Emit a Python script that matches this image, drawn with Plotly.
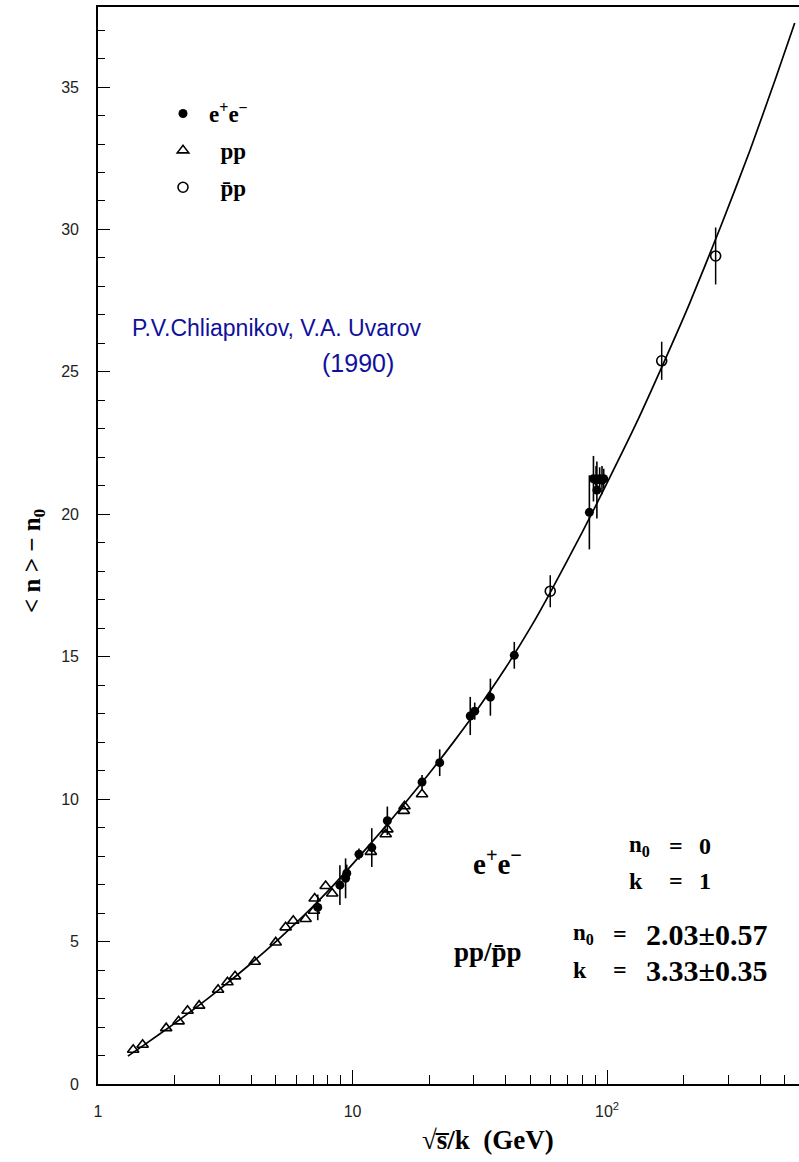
import plotly.graph_objects as go

# Fitted multiplicity curve
fit_x = [1.31, 1.5, 2, 2.5, 3, 4, 5, 6, 7, 8, 10, 13, 16, 20, 25, 30, 40, 50,
         60, 80, 100, 130, 165, 210, 280, 365, 460, 546]
fit_y = [0.98, 1.34, 2.13, 2.77, 3.32, 4.24, 5.00, 5.66, 6.24, 6.77, 7.72, 8.88,
         9.84, 10.90, 12.02, 12.98, 14.62, 16.02, 17.28, 19.38, 21.10, 23.18,
         25.22, 27.36, 30.12, 32.80, 35.32, 37.25]

# e+e- data (filled circles)
ee_x = [7.3, 8.92, 9.39, 9.49, 10.6, 11.9, 13.7, 18.75, 22.0, 29.0, 30.2, 34.8,
        43.2, 85.2, 88.4, 90.5, 91.2, 93.5, 95.5, 97.0]
ee_y = [6.20, 6.98, 7.22, 7.40, 8.07, 8.30, 9.24, 10.60, 11.28, 12.92, 13.09,
        13.58, 15.05, 20.07, 21.25, 21.20, 20.85, 21.25, 21.20, 21.25]
ee_err = [0.45, 0.70, 0.70, 0.30, 0.20, 0.68, 0.50, 0.25, 0.47, 0.67, 0.30,
          0.65, 0.47, 1.30, 0.80, 0.50, 1.00, 0.40, 0.50, 0.35]

# pp data (open triangles)
pp_x = [1.375, 1.497, 1.853, 2.073, 2.248, 2.496, 2.963, 3.226, 3.455, 4.128,
        4.99, 5.46, 5.85, 6.54, 7.05, 7.1, 7.84, 8.32, 11.8, 13.5, 13.7, 15.9,
        16.0, 18.75]
pp_y = [1.20, 1.38, 1.96, 2.20, 2.57, 2.75, 3.31, 3.57, 3.78, 4.29, 4.97, 5.50,
        5.73, 5.79, 6.08, 6.51, 6.95, 6.69, 8.15, 8.77, 8.94, 9.59, 9.75, 10.17]

# pbar-p data (open circles)
pb_x = [59.8, 163.9, 267.0]
pb_y = [17.30, 25.39, 29.07]
pb_err = [0.56, 0.67, 1.00]

x_ticks = [1, 10, 100]
x_ticktext = ["1", "10", "10<sup>2</sup>"]
y_ticks = [0, 5, 10, 15, 20, 25, 30, 35]

W, H = 799, 1162
L_M, R_M, T_M, B_M = 98, 0, 7, 78
pw, ph = W - L_M - R_M, H - T_M - B_M


def px(xp):
    return (xp - L_M) / pw


def py(yp):
    return (H - B_M - yp) / ph


SERIF = "Liberation Serif"
SANS = "Liberation Sans"

fig = go.Figure()

fig.add_trace(go.Scatter(
    x=fit_x, y=fit_y, mode="lines", showlegend=False, hoverinfo="skip",
    line=dict(color="black", width=1.7, shape="spline", smoothing=0.6)))

fig.add_trace(go.Scatter(
    x=ee_x, y=ee_y, mode="markers", name="<b>e<sup>+</sup>e<sup>−</sup></b>",
    legendgroup="a",
    marker=dict(symbol="circle", size=9, color="black"),
    error_y=dict(type="data", array=ee_err, visible=True, color="black",
                 thickness=1.6, width=0)))

fig.add_trace(go.Scatter(
    x=pp_x, y=pp_y, mode="markers", name="<b>  pp</b>", legendgroup="b",
    marker=dict(symbol="triangle-up-open", size=10, color="black",
                line=dict(width=1.6, color="black"))))

fig.add_trace(go.Scatter(
    x=pb_x, y=pb_y, mode="markers", name="<b>  p\u0304p</b>", legendgroup="c",
    marker=dict(symbol="circle-open", size=10, color="black",
                line=dict(width=1.6, color="black")),
    error_y=dict(type="data", array=pb_err, visible=True, color="black",
                 thickness=1.5, width=0)))

annotations = []


def add_text(text, xp, yp, size, family=SERIF, color="black", xanchor="center",
             angle=0):
    annotations.append(dict(
        text=text, x=px(xp), y=py(yp), xref="paper", yref="paper",
        xanchor=xanchor, yanchor="middle", showarrow=False, textangle=angle,
        font=dict(family=family, size=size, color=color)))


# authors
add_text("P.V.Chliapnikov, V.A. Uvarov", 276, 328, 23, family=SANS,
         color="#10109c")
add_text("(1990)", 358, 363, 25, family=SANS, color="#10109c")

# fit parameters
add_text("<b>e<sup>+</sup>e<sup>−</sup></b>", 497, 862, 29)
add_text("<b>n<sub>0</sub></b>", 627, 846, 23, xanchor="left")
add_text("<b>=</b>", 676, 846, 24)
add_text("<b>0</b>", 697, 846, 24, xanchor="left")
add_text("<b>k</b>", 627, 881, 24, xanchor="left")
add_text("<b>=</b>", 676, 881, 24)
add_text("<b>1</b>", 697, 881, 24, xanchor="left")

add_text("<b>pp/p\u0304p</b>", 488, 952, 27)
add_text("<b>n<sub>0</sub></b>", 571, 934, 23, xanchor="left")
add_text("<b>=</b>", 620, 934, 24)
add_text("<b>2.03±0.57</b>", 644, 934, 30, xanchor="left")
add_text("<b>k</b>", 571, 970, 24, xanchor="left")
add_text("<b>=</b>", 620, 970, 24)
add_text("<b>3.33±0.35</b>", 644, 970, 30, xanchor="left")

# axis titles
add_text("<b>< n > − n<sub>0</sub></b>", 33, 561, 25, angle=-90)
add_text("<b>√s\u0305/k  (GeV)</b>", 488, 1140, 27)

fig.update_layout(
    width=W, height=H,
    margin=dict(l=L_M, r=R_M, t=T_M, b=B_M, pad=0),
    paper_bgcolor="white", plot_bgcolor="white",
    annotations=annotations,
    legend=dict(x=px(157), y=py(92), xanchor="left", yanchor="top",
                bgcolor="rgba(0,0,0,0)", tracegroupgap=4, itemwidth=42,
                font=dict(family=SERIF, size=23, color="black")),
)

fig.update_xaxes(
    type="log", range=[0, 2.754], showgrid=False, zeroline=False,
    showline=True, linecolor="black", linewidth=1.6, mirror=True,
    tickmode="array", tickvals=x_ticks, ticktext=x_ticktext,
    ticks="inside", ticklen=14, tickwidth=1.3, tickcolor="black",
    ticklabelstandoff=12,
    tickfont=dict(family=SANS, size=16, color="#222"),
    minor=dict(ticks="inside", ticklen=9, tickwidth=1.2, tickcolor="black",
               dtick="D1", showgrid=False),
)

fig.update_yaxes(
    range=[0, 37.81], showgrid=False, zeroline=False,
    showline=True, linecolor="black", linewidth=1.6,
    tickmode="array", tickvals=y_ticks,
    ticks="inside", ticklen=12, tickwidth=1.3, tickcolor="black",
    ticklabelstandoff=14,
    tickfont=dict(family=SANS, size=16, color="#222"),
    minor=dict(ticks="inside", ticklen=7, tickwidth=1.2, tickcolor="black",
               dtick=1, showgrid=False),
)

fig.write_html("out.html")
